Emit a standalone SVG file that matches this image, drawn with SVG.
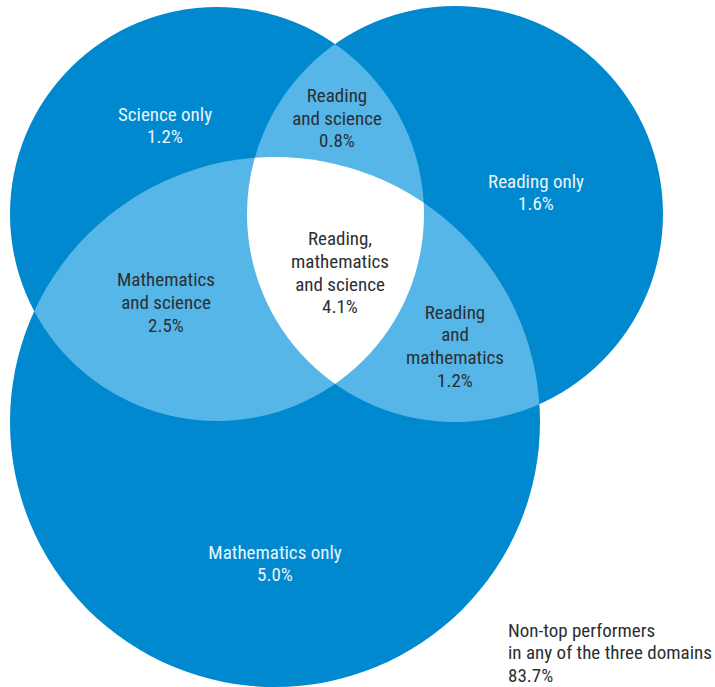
<svg xmlns="http://www.w3.org/2000/svg" width="715" height="687" viewBox="0 0 715 687">
<style>
.dark{fill:#0089cf}
.light{fill:#55b6e7}
.white{fill:#ffffff}
text{font-family:"Liberation Sans Narrow","Roboto Condensed","Liberation Sans",Arial,sans-serif;font-size:19px;text-anchor:middle}
.tl{fill:#e8f4fc}
.td{fill:#2b2f33}
.ts{fill:#2b2f33;text-anchor:start}
</style>
<defs>
<clipPath id="cM"><circle cx="275" cy="422" r="265"/></clipPath>
<clipPath id="cR"><circle cx="455" cy="214" r="208"/></clipPath>
<clipPath id="cRM" clip-path="url(#cM)"><circle cx="455" cy="214" r="208"/></clipPath>
</defs>
<rect width="715" height="687" fill="#ffffff"/>
<g id="circles">
<circle class="dark" cx="275" cy="422" r="265"/>
<circle class="dark" cx="217" cy="214" r="207"/>
<circle class="dark" cx="455" cy="214" r="208"/>
</g>
<g id="lenses">
<circle class="light" cx="217" cy="214" r="207" clip-path="url(#cM)"/>
<circle class="light" cx="217" cy="214" r="207" clip-path="url(#cR)"/>
<circle class="light" cx="455" cy="214" r="208" clip-path="url(#cM)"/>
<circle class="white" cx="217" cy="214" r="207" clip-path="url(#cRM)"/>
</g>
<g id="science-only"><text class="tl" x="165" y="121">Science only</text><text class="tl" x="165" y="143">1.2%</text></g>
<g id="reading-science"><text class="td" x="337" y="102">Reading</text><text class="td" x="337" y="125">and science</text><text class="td" x="337" y="147">0.8%</text></g>
<g id="reading-only"><text class="tl" x="536" y="188">Reading only</text><text class="tl" x="536" y="210">1.6%</text></g>
<g id="all-three"><text class="td" x="340" y="245">Reading,</text><text class="td" x="340" y="268">mathematics</text><text class="td" x="340" y="291">and science</text><text class="td" x="340" y="313">4.1%</text></g>
<g id="math-science"><text class="td" x="166" y="286">Mathematics</text><text class="td" x="166" y="309">and science</text><text class="td" x="166" y="332">2.5%</text></g>
<g id="reading-math"><text class="td" x="455" y="319">Reading</text><text class="td" x="455" y="341">and</text><text class="td" x="455" y="364">mathematics</text><text class="td" x="455" y="387">1.2%</text></g>
<g id="math-only"><text class="tl" x="275" y="559">Mathematics only</text><text class="tl" x="275" y="581">5.0%</text></g>
<g id="non-top"><text class="ts" x="508" y="637">Non-top performers</text><text class="ts" x="508" y="659" textLength="204" lengthAdjust="spacingAndGlyphs">in any of the three domains</text><text class="ts" x="508" y="682">83.7%</text></g>
</svg>
